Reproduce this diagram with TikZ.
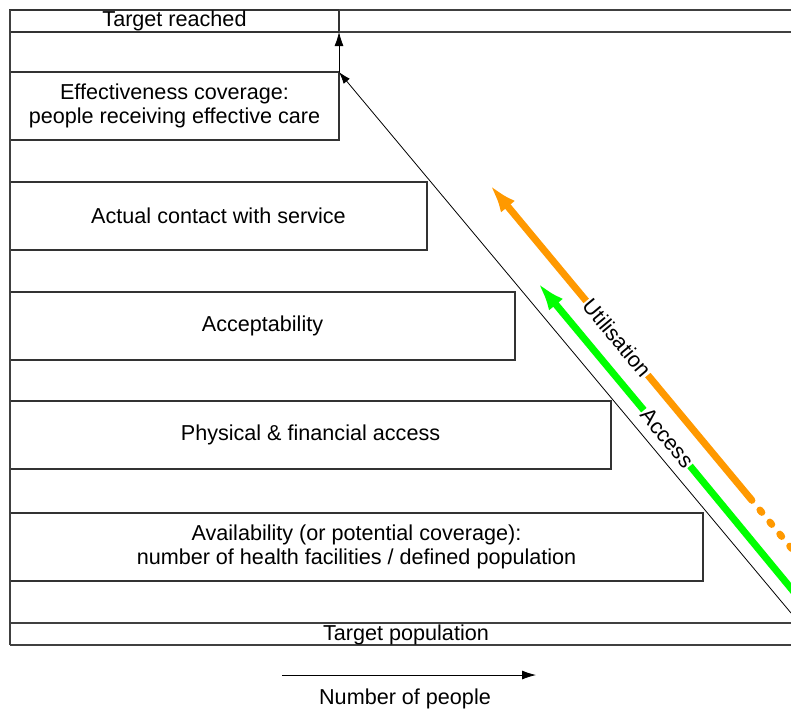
\documentclass[tikz,border=0pt]{standalone}
\usepackage{fontspec}
\setmainfont{Liberation Sans}
\usepackage{xcolor}
\definecolor{ff9900}{HTML}{ff9900}
\definecolor{00ff00}{HTML}{00ff00}
\usepackage{tikz}
\usetikzlibrary{arrows.meta}

\begin{document}
\begin{tikzpicture}[x=0.5pt, y=-0.5pt,
        font=\fontsize{10.8}{12.2}\selectfont,
        stage/.style={draw=black!80, line width=0.7pt, anchor=north west,
            minimum height=34pt, inner sep=0pt, outer sep=0pt, align=center},
        frame/.style={draw=black!75, line width=0.7pt},
        flow/.style={line width=3.5pt}]
            \useasboundingbox (0, 0) rectangle (791, 713);

            \node [stage, minimum height=11pt, minimum width=164.5pt] (reached) at (10, 10) {Target reached};
            \draw [frame] (reached.north east) -- (791, 10);
            \draw [frame] (reached.south east) -- (791, 32);

            \node [stage, minimum width=164.5pt] (eff) at (10, 72) {Effectiveness coverage:\\people receiving effective care};
            \node [stage, minimum width=208.5pt] (contact) at (10, 182) {Actual contact with service};
            \node [stage, minimum width=252.5pt] (accept) at (10, 292) {Acceptability};
            \node [stage, minimum width=300.5pt] (phys) at (10, 401) {Physical \& financial access};
            \node [stage, minimum width=346.5pt] (avail) at (10, 513) {Availability (or potential coverage):\\number of health facilities / defined population};

            \draw [frame] (reached.north west) -- (10, 645);
            \draw [frame] (10, 623) -- (791, 623);
            \draw [frame] (10, 645) -- (791, 645);
            \node (pop) at (406, 635) {Target population};

            \draw [-{Latex[length=7pt, width=4.5pt]}] (eff.north east) -- (reached.south east);

            \coordinate (base) at (791, 613);
            \draw [-{Latex[length=6pt, width=4pt]}] (base) -- (eff.north east);

            % utilisation
            \coordinate (otail) at (750, 498);
            \coordinate (otip) at (490, 185);
            \node [rotate=-50.2, inner sep=0.5pt] (util) at (617, 338) {Utilisation};
            \draw [flow, ff9900] (otail) -- (util);
            \draw [flow, ff9900, -{Latex[length=14pt, width=9pt]}] (util) -- (otip);
            \draw [flow, ff9900, line cap=round, dash pattern=on 1.5pt off 6.3pt] (otail) -- (797, 555);

            % access
            \coordinate (gtail) at (794, 592);
            \coordinate (gtip) at (538, 283);
            \node [rotate=-50.2, inner sep=0.5pt] (acc) at (667, 438) {Access};
            \draw [flow, 00ff00] (gtail) -- (acc);
            \draw [flow, 00ff00, -{Latex[length=14pt, width=9pt]}] (acc) -- (gtip);

            \coordinate (nstart) at (282, 675);
            \coordinate (nend) at (536, 675);
            \draw [-{Latex[length=7pt, width=4.5pt]}] (nstart) -- (nend);
            \node (people) at (405, 699) {Number of people};
        \end{tikzpicture}
\end{document}
